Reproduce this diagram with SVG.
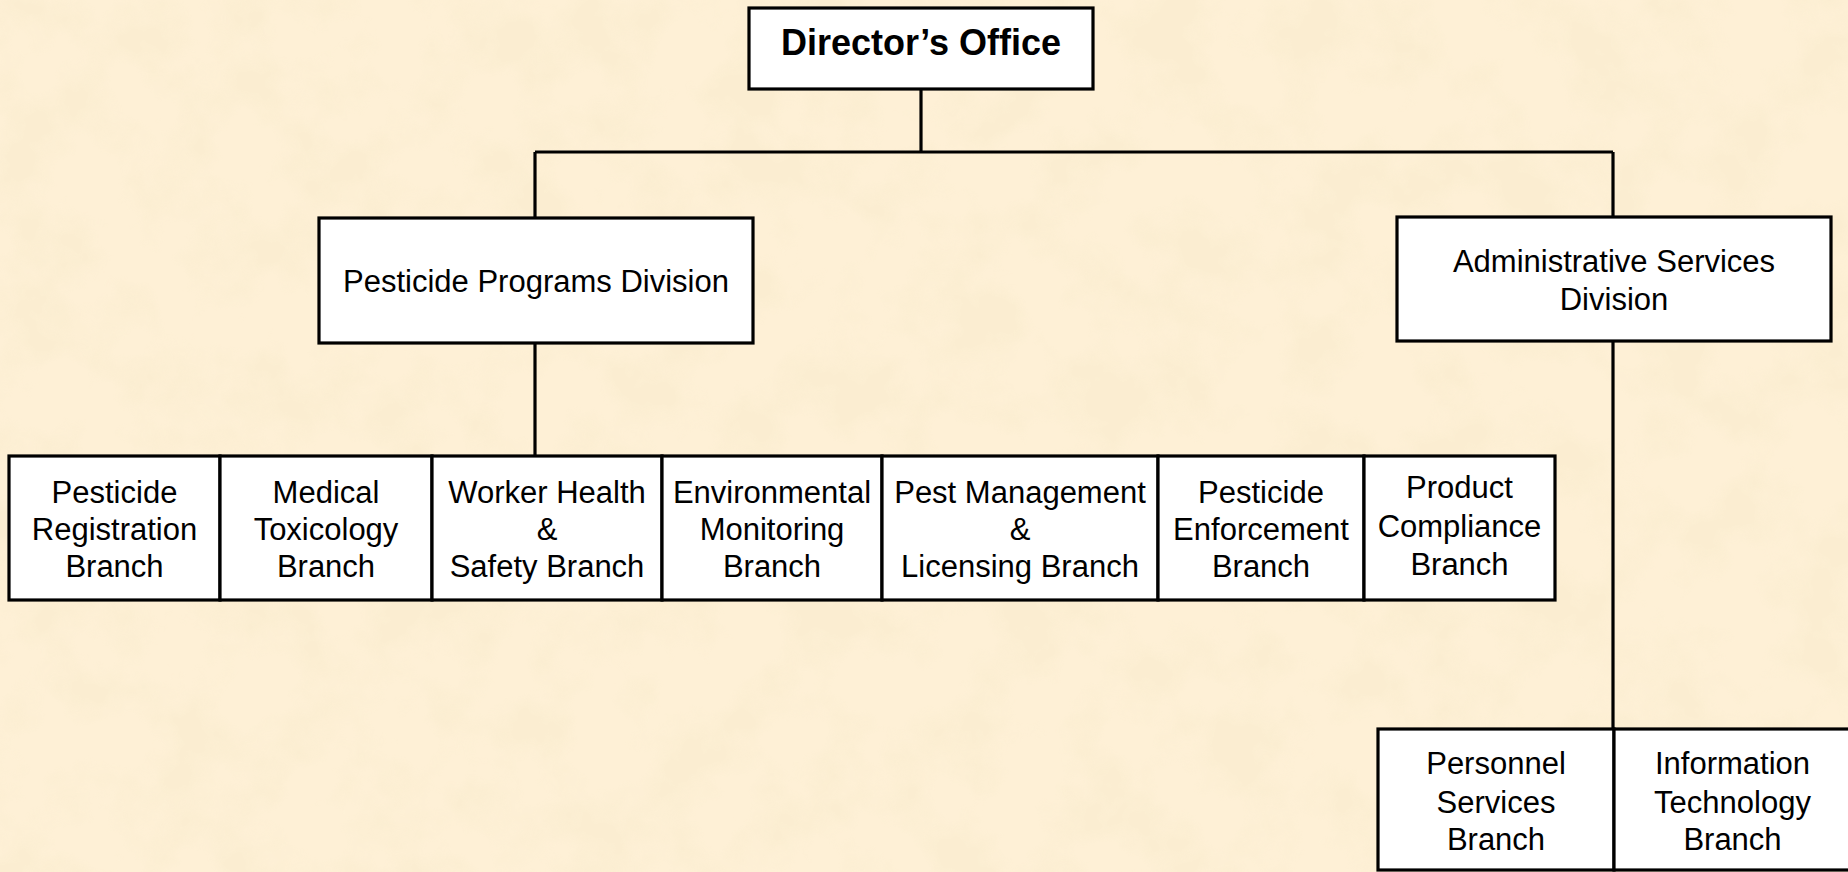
<svg xmlns="http://www.w3.org/2000/svg" width="1848" height="872" viewBox="0 0 1848 872">
<style>
.box{fill:#ffffff;stroke:#000000;stroke-width:3.2}
.conn line{stroke:#000000;stroke-width:3.2}
text{font-family:"Liberation Sans",Arial,sans-serif;font-size:31px;fill:#000000;text-anchor:middle}
.title{font-weight:bold;font-size:36px}
</style>
<defs>
<filter id="paper" x="0" y="0" width="100%" height="100%">
<feTurbulence type="fractalNoise" baseFrequency="0.014" numOctaves="4" seed="7" result="n"/>
<feColorMatrix in="n" type="matrix" values="0 0 0 0 0.95  0 0 0 0 0.84  0 0 0 0 0.62  4 0 0 0 -1.7"/>
</filter>
</defs>
<rect x="0" y="0" width="1848" height="872" fill="#fef0d6"/>
<rect x="0" y="0" width="1848" height="872" filter="url(#paper)" opacity="0.55"/>

<g id="connectors" class="conn">
<line x1="921" y1="89" x2="921" y2="152"/>
<line x1="535" y1="152" x2="1613" y2="152"/>
<line x1="535" y1="152" x2="535" y2="218"/>
<line x1="1613" y1="152" x2="1613" y2="217"/>
<line x1="535" y1="343" x2="535" y2="456"/>
<line x1="1613" y1="341" x2="1613" y2="729"/>
</g>

<g id="directors-office">
<rect class="box" x="749" y="8" width="344" height="81"/>
<text class="title" x="921" y="55">Director’s Office</text>
</g>

<g id="pesticide-programs-division">
<rect class="box" x="319" y="218" width="434" height="125"/>
<text x="536" y="292">Pesticide Programs Division</text>
</g>

<g id="administrative-services-division">
<rect class="box" x="1397" y="217" width="434" height="124"/>
<text x="1614" y="272">Administrative Services</text>
<text x="1614" y="310">Division</text>
</g>

<g id="pesticide-registration-branch">
<rect class="box" x="9" y="456" width="211" height="144"/>
<text x="114.5" y="503">Pesticide</text>
<text x="114.5" y="540">Registration</text>
<text x="114.5" y="577">Branch</text>
</g>

<g id="medical-toxicology-branch">
<rect class="box" x="220" y="456" width="212" height="144"/>
<text x="326" y="503">Medical</text>
<text x="326" y="540">Toxicology</text>
<text x="326" y="577">Branch</text>
</g>

<g id="worker-health-safety-branch">
<rect class="box" x="432" y="456" width="230" height="144"/>
<text x="547" y="503">Worker Health</text>
<text x="547" y="540">&amp;</text>
<text x="547" y="577">Safety Branch</text>
</g>

<g id="environmental-monitoring-branch">
<rect class="box" x="662" y="456" width="220" height="144"/>
<text x="772" y="503">Environmental</text>
<text x="772" y="540">Monitoring</text>
<text x="772" y="577">Branch</text>
</g>

<g id="pest-management-licensing-branch">
<rect class="box" x="882" y="456" width="276" height="144"/>
<text x="1020" y="503">Pest Management</text>
<text x="1020" y="540">&amp;</text>
<text x="1020" y="577">Licensing Branch</text>
</g>

<g id="pesticide-enforcement-branch">
<rect class="box" x="1158" y="456" width="206" height="144"/>
<text x="1261" y="503">Pesticide</text>
<text x="1261" y="540">Enforcement</text>
<text x="1261" y="577">Branch</text>
</g>

<g id="product-compliance-branch">
<rect class="box" x="1364" y="456" width="191" height="144"/>
<text x="1459.5" y="498">Product</text>
<text x="1459.5" y="537">Compliance</text>
<text x="1459.5" y="575">Branch</text>
</g>

<g id="personnel-services-branch">
<rect class="box" x="1378" y="729" width="236" height="141"/>
<text x="1496" y="774">Personnel</text>
<text x="1496" y="813">Services</text>
<text x="1496" y="850">Branch</text>
</g>

<g id="information-technology-branch">
<rect class="box" x="1614" y="729" width="237" height="141"/>
<text x="1732.5" y="774">Information</text>
<text x="1732.5" y="813">Technology</text>
<text x="1732.5" y="850">Branch</text>
</g>
</svg>
